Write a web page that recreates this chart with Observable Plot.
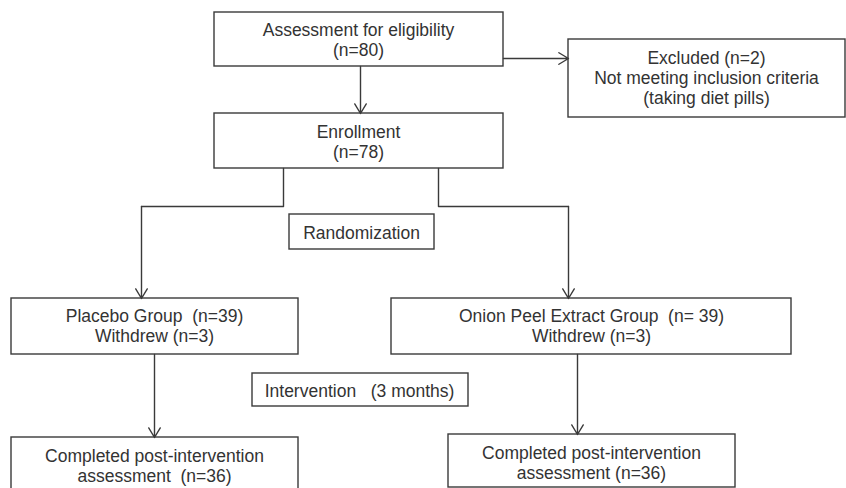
<!DOCTYPE html>
<html>
<head>
<meta charset="utf-8">
<script src="https://cdn.jsdelivr.net/npm/d3@7"></script>
<script src="https://cdn.jsdelivr.net/npm/@observablehq/plot@0.6"></script>
<style>
  html, body { margin: 0; padding: 0; background: #fff; }
  svg { display: block; }
</style>
</head>
<body>
<script>
// Flowchart content
const labels = [
  "Assessment for eligibility\n(n=80)",
  "Excluded (n=2)\nNot meeting inclusion criteria\n(taking diet pills)",
  "Enrollment\n(n=78)",
  "Randomization",
  "Placebo Group  (n=39)\nWithdrew (n=3)",
  "Onion Peel Extract Group  (n= 39)\nWithdrew (n=3)",
  "Intervention   (3 months)",
  "Completed post-intervention\nassessment  (n=36)",
  "Completed post-intervention\nassessment (n=36)"
];
// Layout of each box (pixel layout space): [x1, x2, y1, y2]
const layout = [
  [214, 503, 12, 66],
  [568, 845, 39, 117],
  [214, 503, 113, 168],
  [289, 434, 214, 249],
  [11, 298, 298, 354],
  [391, 791, 298, 354],
  [252, 468, 373, 406],
  [11, 298, 437, 500],
  [448, 735, 434, 487]
];
// Text centres for each box
const textPos = [
  [358, 39], [706, 77], [358, 141], [361, 232], [154, 325],
  [591, 325], [359, 390], [154, 465], [591, 462]
];
// Plain connectors (no head)
const connectors = [
  [[283, 168], [283, 206], [141, 206]],
  [[438, 168], [438, 206], [568, 206]]
];
// Arrows [x1, y1, x2, y2]
const arrows = [
  [360, 66, 360, 113],
  [503, 58, 568, 58],
  [141, 206, 141, 298],
  [568, 206, 568, 298],
  [154, 354, 154, 437],
  [577, 354, 577, 434]
];

const boxes = labels.map((t, i) => ({
  label: t, x1: layout[i][0], x2: layout[i][1], y1: layout[i][2], y2: layout[i][3],
  tx: textPos[i][0], ty: textPos[i][1]
}));
const lineData = connectors.flatMap((pts, k) => pts.map(([x, y]) => ({k, x, y})));
const arrowData = arrows.map(([x1, y1, x2, y2]) => ({x1, y1, x2, y2}));

const ink = "#3a3a3a";
const chart = Plot.plot({
  width: 846,
  height: 488,
  margin: 0,
  x: {domain: [0, 846], range: [0, 846], axis: null},
  y: {domain: [0, 488], range: [0, 488], axis: null},
  style: {background: "#fff", fontFamily: "'Liberation Sans', Arial, sans-serif"},
  marks: [
    Plot.rect(boxes, {x1: "x1", x2: "x2", y1: "y1", y2: "y2", fill: "#fff", stroke: ink, strokeWidth: 1.4}),
    Plot.line(lineData, {x: "x", y: "y", z: "k", stroke: ink, strokeWidth: 1.4, curve: "linear"}),
    Plot.arrow(arrowData, {x1: "x1", y1: "y1", x2: "x2", y2: "y2", stroke: ink, strokeWidth: 1.4, headLength: 12, headAngle: 62, inset: 0}),
    Plot.text(boxes, {x: "tx", y: "ty", text: "label", fontSize: 17.5, lineHeight: 1.15, fill: "#333", textAnchor: "middle", lineAnchor: "middle"})
  ]
});
document.body.appendChild(chart);
</script>
</body>
</html>
